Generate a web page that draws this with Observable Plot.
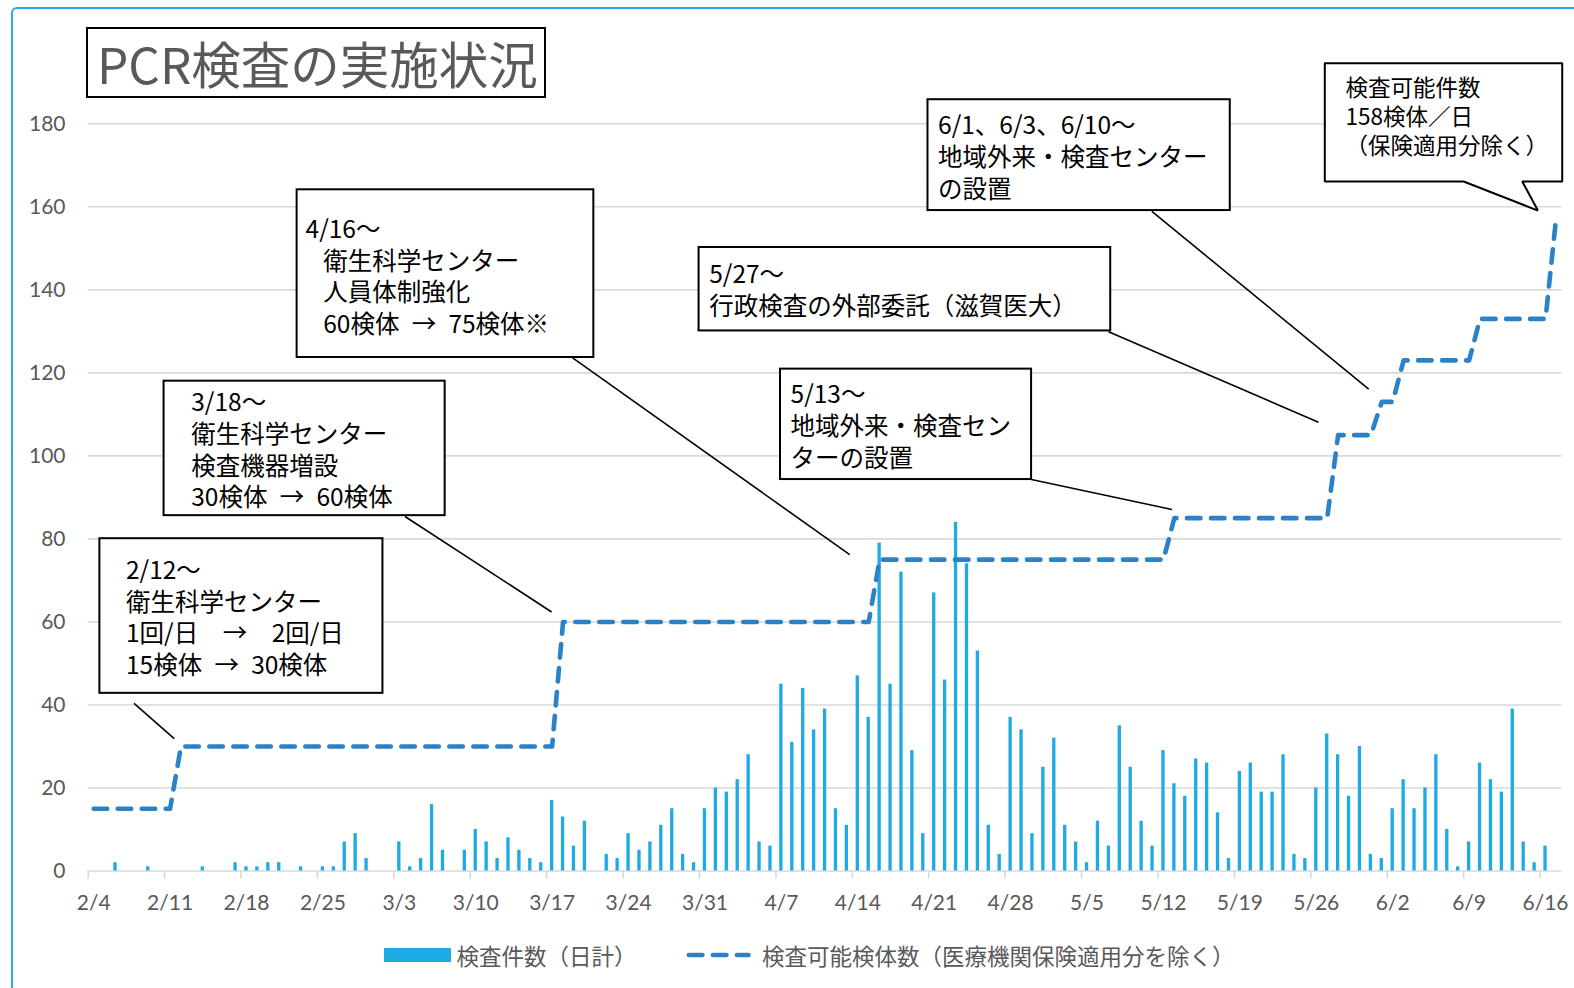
<!DOCTYPE html>
<html>
<head>
<meta charset="utf-8">
<script src="https://cdn.jsdelivr.net/npm/d3@7"></script>
<script src="https://cdn.jsdelivr.net/npm/@observablehq/plot@0.6"></script>
<style>
  html, body { margin: 0; padding: 0; background: #fff; overflow: hidden; }
  #wrap { position: relative; width: 1574px; height: 988px; overflow: hidden; background: #fff; }
  #wrap svg { position: absolute; left: 0; top: 0; }
  #frame { position: absolute; left: 11px; top: 7px; width: 1700px; height: 1100px; box-sizing: border-box;
           border-left: 2.5px solid #22ADE6; border-top: 2.5px solid #22ADE6; border-top-left-radius: 6px; pointer-events: none; }
  #title { position: absolute; left: 86px; top: 27px; width: 460px; height: 71px; box-sizing: border-box;
           border: 2px solid #000; background: #fff; display: flex; align-items: center; padding-left: 9px;
           font-family: "Noto Sans CJK JP", sans-serif; font-size: 49.5px; color: #595959; white-space: nowrap; }
  .lg { position: absolute; font-family: "Noto Sans CJK JP", sans-serif; font-size: 22.5px; line-height: 24px; color: #595959; white-space: nowrap; }
</style>
</head>
<body>
<div id="wrap">
  <div id="frame"></div>
</div>
<script>
// ---------- data ----------
const startDate = "2020-02-04";
// daily PCR tests (検査件数・日計), 2/4 .. 6/16
const febTests = [0,0,2,0,0,1,0,0,0,0,1,0,0,2,1,1,2,2,0,1,0,1,1,7,9,3];
const marTests = [0,0,7,1,3,16,5,0,5,10,7,3,8,5,3,2,17,13,6,12,0,4,3,9,5,7,11,15,4,2,15];
const aprTests = [20,19,22,28,7,6,45,31,44,34,39,15,11,47,37,79,45,72,29,9,67,46,84,74,53,11,4,37,34,9];
const mayTests = [25,32,11,7,2,12,6,35,25,12,6,29,21,18,27,26,14,3,24,26,19,19,28,4,3,20,33,28,18,30,4];
const junTests = [3,15,22,15,20,28,10,1,7,26,22,19,39,7,2,6];

// testing capacity (検査可能検体数) – vertices of the step line
const capDates  = ["2020-02-04","2020-02-11","2020-02-12","2020-03-17","2020-03-18","2020-04-15","2020-04-16",
                   "2020-05-12","2020-05-13","2020-05-27","2020-05-28","2020-05-31","2020-06-01","2020-06-02",
                   "2020-06-03","2020-06-09","2020-06-10","2020-06-16","2020-06-17"];
const capValues = [15,15,30,30,60,60,75,75,85,85,105,105,113,113,123,123,133,133,158];

// axis ticks
const xTickDates = ["2/4","2/11","2/18","2/25","3/3","3/10","3/17","3/24","3/31","4/7","4/14","4/21","4/28",
                    "5/5","5/12","5/19","5/26","6/2","6/9","6/16"];
const yTicks = [0,20,40,60,80,100,120,140,160,180];

// annotation texts
const noteTexts = [
  "2/12～\n衛生科学センター\n1回/日　→　2回/日\n15検体\u2002→\u200230検体",
  "3/18～\n衛生科学センター\n検査機器増設\n30検体\u2002→\u200260検体",
  "4/16～",
  "衛生科学センター\n人員体制強化\n60検体\u2002→\u200275検体※",
  "5/27～\n行政検査の外部委託（滋賀医大）",
  "6/1、6/3、6/10～\n地域外来・検査センター\nの設置",
  "5/13～\n地域外来・検査セン\nターの設置"
];
const calloutText = "検査可能件数\n158検体／日\n（保険適用分除く）";

// ---------- annotation layout (in data units: days after 2/4, test counts) ----------
const t0 = Date.parse(startDate + "T00:00:00Z");
const day = n => new Date(t0 + n * 864e5);
const noteAnchors = [[3.46,72.6],[9.44,112.96],[19.91,154.7],[21.53,147.1],[56.89,143.9],[77.85,179.7],[64.34,114.9]];
const boxes = [
  [1.07,27.0,42.8,80.05],[6.95,32.70,85.6,118.0],[19.14,46.32,123.7,164.1],
  [55.96,93.67,130.1,150.2],[76.93,104.62,159.1,185.8],[63.42,86.42,94.3,120.9]
];
const leaders = [
  [4.2,40.4,7.88,31.9],[29.02,85.4,42.45,62.4],[44.38,123.6,69.76,76.2],
  [93.47,129.9,112.7,108.1],[97.44,158.9,117.3,116.1],[86.4,94.3,99.28,87.1]
];
const calloutShape = [[113.28,194.6],[135.03,194.6],[135.03,166.1],[131.37,166.1],[132.8,159.1],
                      [126.0,166.1],[113.28,166.1],[113.28,194.6]];
const calloutAnchor = [115.18,188.7];

// ---------- tables ----------
const allTests = [...febTests, ...marTests, ...aprTests, ...mayTests, ...junTests];
const tests = allTests.map((c, i) => ({date: day(i), count: c}));
const capacity = capDates.map((d, i) => ({date: new Date(d + "T00:00:00Z"), value: capValues[i]}));
const xTicks = xTickDates.map(s => { const [m, d] = s.split("/").map(Number); return new Date(Date.UTC(2020, m - 1, d)); });
const notes = noteTexts.map((t, i) => ({text: t, x: day(noteAnchors[i][0]), y: noteAnchors[i][1]}));
const boxData = boxes.map(b => ({x1: day(b[0]), x2: day(b[1]), y1: b[2], y2: b[3]}));
const leaderData = leaders.map(l => ({x1: day(l[0]), y1: l[1], x2: day(l[2]), y2: l[3]}));
const calloutData = calloutShape.map(p => ({x: day(p[0]), y: p[1]}));

const barColor = "#1EAAE2";
const lineColor = "#2B82C6";
const jp = "'Noto Sans CJK JP', sans-serif";

const chart = Plot.plot({
  width: 1574,
  height: 988,
  marginLeft: 87.7,
  marginRight: 12.6,
  marginTop: 123.3,
  marginBottom: 117.5,
  style: {fontFamily: "Lato, sans-serif", fontSize: "21px", color: "#595959", background: "transparent", overflow: "visible"},
  x: {type: "utc", domain: [day(0), day(135)]},
  y: {domain: [0, 180]},
  marks: [
    Plot.ruleY(yTicks, {stroke: "#d9d9d9", strokeWidth: 1.6}),
    Plot.axisX({ticks: xTicks, tickSize: 8, tickFormat: () => "", stroke: "#d9d9d9", strokeWidth: 1.6, strokeOpacity: 1, label: null}),
    Plot.axisX({ticks: xTicks, tickSize: 0, tickPadding: 24, tickFormat: d3.utcFormat("%-m/%-d"), dx: 5.46, fontSize: 21, label: null}),
    Plot.axisY({ticks: yTicks, tickSize: 0, tickPadding: 22.7, fontSize: 21, label: null}),
    Plot.rectY(tests, {x1: "date", x2: d => d3.utcDay.offset(d.date, 1), y: "count", fill: barColor, insetLeft: 3.8, insetRight: 3.8}),
    Plot.line(capacity, {x: d => d3.utcHour.offset(d.date, 12), y: "value", stroke: lineColor, strokeWidth: 4.6,
      strokeDasharray: "13.5,10.5", strokeLinecap: "round", strokeLinejoin: "round"}),
    Plot.link(leaderData, {x1: "x1", y1: "y1", x2: "x2", y2: "y2", stroke: "#000", strokeWidth: 1.6}),
    Plot.rect(boxData, {x1: "x1", x2: "x2", y1: "y1", y2: "y2", fill: "#fff", stroke: "#000", strokeWidth: 2}),
    Plot.line(calloutData, {x: "x", y: "y", fill: "#fff", stroke: "#000", strokeWidth: 2, strokeLinejoin: "miter", curve: "linear"}),
    Plot.text(notes, {x: "x", y: "y", text: "text", textAnchor: "start", lineAnchor: "top", lineHeight: 1.29,
      fontSize: 24.5, dy: -13.1, fill: "#000", fontFamily: jp}),
    Plot.text([calloutText], {x: day(calloutAnchor[0]), y: calloutAnchor[1], text: d => d, textAnchor: "start", lineAnchor: "top",
      lineHeight: 1.29, fontSize: 22.5, dy: -12, fill: "#000", fontFamily: jp})
  ]
});

const wrap = document.getElementById("wrap");
wrap.insertBefore(chart, wrap.firstChild);

// title
const title = document.createElement("div");
title.id = "title";
title.textContent = "PCR検査の実施状況";
wrap.appendChild(title);

// legend
function addLegendText(txt, left) {
  const el = document.createElement("div");
  el.className = "lg";
  el.style.left = left + "px";
  el.style.top = "942.5px";
  el.textContent = txt;
  wrap.appendChild(el);
}
const sw1 = document.createElement("div");
Object.assign(sw1.style, {position: "absolute", left: "383.5px", top: "948px", width: "67px", height: "14px", background: barColor});
wrap.appendChild(sw1);
addLegendText("検査件数（日計）", 456.5);
const ns = "http://www.w3.org/2000/svg";
const sw2 = document.createElementNS(ns, "svg");
sw2.setAttribute("width", "80"); sw2.setAttribute("height", "20");
Object.assign(sw2.style, {position: "absolute", left: "680px", top: "945px"});
const ln = document.createElementNS(ns, "line");
ln.setAttribute("x1", "8.9"); ln.setAttribute("x2", "68.5"); ln.setAttribute("y1", "10"); ln.setAttribute("y2", "10");
ln.setAttribute("stroke", lineColor); ln.setAttribute("stroke-width", "4.6");
ln.setAttribute("stroke-dasharray", "13.5,10.5"); ln.setAttribute("stroke-linecap", "round");
sw2.appendChild(ln);
wrap.appendChild(sw2);
addLegendText("検査可能検体数（医療機関保険適用分を除く）", 762);

// keep frame on top
wrap.appendChild(document.getElementById("frame"));
</script>
</body>
</html>
